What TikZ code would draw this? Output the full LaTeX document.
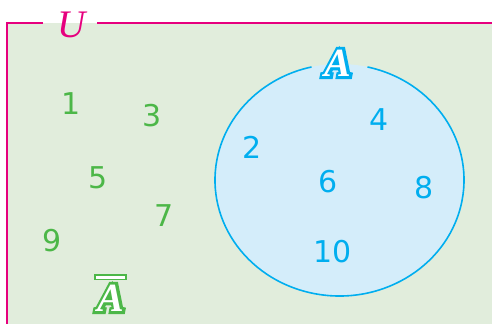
\documentclass[tikz,border=0pt]{standalone}
\usepackage{fontspec}
\usepackage{xcolor}
\usepackage{tikz}
\setmainfont{Liberation Serif}
\newfontfamily\digitfont{DejaVu Sans}
\newfontfamily\halofont{Liberation Serif}[BoldItalicFeatures={FakeBold=14}]
\definecolor{upink}{RGB}{230,0,126}
\definecolor{uback}{RGB}{225,237,220}
\definecolor{agreen}{RGB}{76,183,72}
\definecolor{acyan}{RGB}{0,174,239}
\definecolor{afill}{RGB}{212,237,250}

\begin{document}
\begin{tikzpicture}[x=1pt, y=-1pt,
    numout/.style={text=agreen, inner sep=0pt, font=\digitfont\fontsize{30}{30}\selectfont},
    numin/.style={numout, text=acyan},
    setname/.style={inner sep=0pt, text=white, font=\fontsize{40}{40}\selectfont\bfseries\itshape},
    sethalo/.style={inner sep=0pt, font=\halofont\fontsize{40}{40}\selectfont\bfseries\itshape}]
    \useasboundingbox (0,0) rectangle (492,324);
    % universe
    \fill[uback] (7,23) rectangle (492,324);
    \draw[upink, line width=1.6pt] (43,23) -- (7,23) -- (7,324);
    \draw[upink, line width=1.6pt] (97,23) -- (492,23);
    \node[text=upink, inner sep=0pt, font=\fontsize{39}{39}\selectfont\itshape] (u) at (72,25) {U};
    % set A
    \fill[afill] (339.5,180) ellipse [x radius=124.5, y radius=116];
    \draw[acyan, line width=1.6pt] (339.5,180) ++(-77:124.5 and 116)
        arc [start angle=-77, end angle=257, x radius=124.5, y radius=116];
    \node[sethalo, text=acyan] (ahalo) at (338,63) {A};
    \node[setname] (a) at (ahalo) {A};
    \node[sethalo, text=agreen] (abarhalo) at (111,298) {A};
    \node[setname] (abar) at (abarhalo) {A};
    \draw[agreen, fill=white, line width=1.5pt] (95,275) rectangle (126,279.5);
    \foreach \n/\x/\y in {1/71/104, 3/152/116, 5/98.5/177.5, 7/164/216, 9/52/240.5}
        \node[numout] (n\n) at (\x,\y) {\n};
    \foreach \n/\x/\y in {2/252/147, 4/379/120, 6/328/182, 8/424/188, 10/332.5/251.5}
        \node[numin] (n\n) at (\x,\y) {\n};
\end{tikzpicture}
\end{document}
